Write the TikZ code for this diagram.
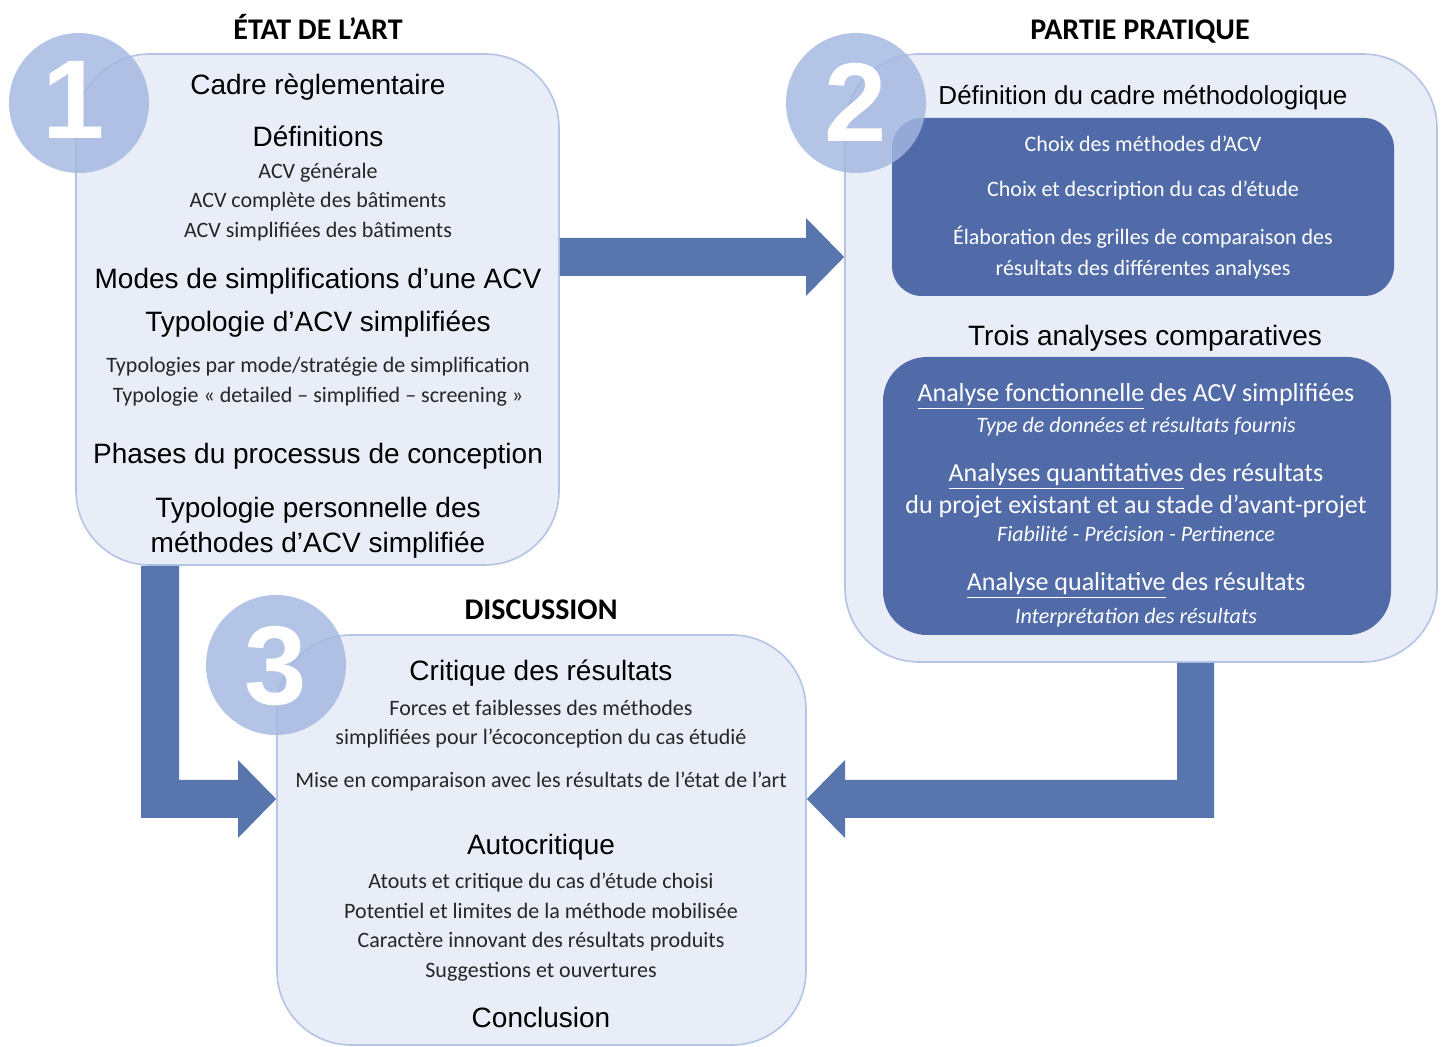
\documentclass[tikz,border=0pt]{standalone}
\usepackage{fontspec}
\setmainfont{Carlito}
\newfontfamily\arialfont{Liberation Sans}
\usetikzlibrary{positioning,calc}

\definecolor{panelfill}{RGB}{233,237,247}
\definecolor{paneldraw}{RGB}{180,196,228}
\definecolor{badgefill}{RGB}{164,183,224}
\definecolor{darkfill}{RGB}{80,107,168}
\definecolor{arrowfill}{RGB}{88,118,173}
\definecolor{textgray}{RGB}{38,38,38}

\begin{document}
\begin{tikzpicture}[x=0.5pt, y=-0.5pt,
  panel/.style={draw=paneldraw, line width=0.8pt, fill=panelfill, rounded corners=37pt, inner sep=0pt},
  darkpanel/.style={fill=darkfill, inner sep=0pt},
  badge/.style={circle, fill=badgefill, fill opacity=0.82, minimum size=70pt, inner sep=0pt},
  badgenum/.style={text=white, inner sep=0pt, font=\arialfont\bfseries\fontsize{56}{56}\selectfont},
  bigarrow/.style={fill=arrowfill},
  heading/.style={font=\bfseries\fontsize{15}{18}\selectfont, text=black},
  bigtext/.style={font=\arialfont\fontsize{14}{17.5}\selectfont, align=center, text=black, yshift=-1.5pt},
  smalltext/.style={font=\fontsize{11}{14.75}\selectfont, align=center, text=textgray, yshift=-1pt},
  whitetext/.style={font=\fontsize{11}{15.5}\selectfont, align=center, text=white, yshift=-0.75pt},
  whitebig/.style={font=\fontsize{13}{16}\selectfont, align=center, text=white, yshift=-1.75pt}]
\useasboundingbox (0,0) rectangle (1442,1047);

% the three panels
\node[panel, minimum width=241.5pt, minimum height=255.5pt] (art) at (317.5,309.5) {};
\node[panel, minimum width=296pt, minimum height=304pt] (pratique) at (1141,358) {};
\node[panel, minimum width=264.5pt, minimum height=205pt] (discussion) at (541.5,840) {};

\node[darkpanel, rounded corners=15pt, minimum width=251pt, minimum height=89pt] (cadrebox) at (1143,207) {};
\node[darkpanel, rounded corners=22pt, minimum width=254pt, minimum height=139pt] (analysebox) at (1137,496) {};

% numbered badges
\node[badge] (one) at (79,103) {};
\node[badge] (two) at (856,103) {};
\node[badge] (three) at (276,665) {};
\node[badgenum] (num1) at (74,100) {1};
\node[badgenum] (num2) at (856,102) {2};
\node[badgenum] (num3) at (276,666) {3};

% block arrows
\fill[bigarrow] (art.east |- 0,238) -- (806,238) -- (806,218) -- (pratique.west |- 0,257)
   -- (806,296) -- (806,276) -- (art.east |- 0,276) -- cycle;
\fill[bigarrow] (141,0 |- art.south) -- (179,0 |- art.south) -- (179,780) -- (238,780)
   -- (238,760) -- (discussion.west |- 0,799) -- (238,838) -- (238,818) -- (141,818) -- cycle;
\fill[bigarrow] (1177,0 |- pratique.south) -- (1214,0 |- pratique.south) -- (1214,818)
   -- (845,818) -- (845,838) -- (discussion.east |- 0,799) -- (845,760) -- (845,780)
   -- (1177,780) -- cycle;

% headings
\node[heading] (hart) at (318,27) {ÉTAT DE L’ART};
\node[heading] (hprat) at (1140,32) {PARTIE PRATIQUE};
\node[heading] (hdisc) at (541,610) {DISCUSSION};

% etat de l'art
\node[bigtext] (cadre) at (318,84) {Cadre règlementaire};
\node[bigtext] (defs) at (318,133) {Définitions};
\node[smalltext] (defsub) at (318,200) {ACV générale\\ACV complète des bâtiments\\ACV simplifiées des bâtiments};
\node[bigtext] (modes) at (318,278) {Modes de simplifications d’une ACV};
\node[bigtext] (typo) at (318,321) {Typologie d’ACV simplifiées};
\node[smalltext] (typosub) at (318,380) {Typologies par mode/stratégie de simplification\\Typologie « detailed – simplified – screening »};
\node[bigtext] (phases) at (318,453) {Phases du processus de conception};
\node[bigtext] (perso) at (318,525) {Typologie personnelle des\\méthodes d’ACV simplifiée};

% partie pratique
\node[bigtext, font=\arialfont\fontsize{13}{16}\selectfont] (methodo) at (1143,95) {Définition du cadre méthodologique};
\node[whitetext] (choixacv) at (1143,142) {Choix des méthodes d’ACV};
\node[whitetext] (choixcas) at (1143,189) {Choix et description du cas d’étude};
\node[whitetext] (grilles) at (1143,251) {Élaboration des grilles de comparaison des\\résultats des différentes analyses};
\node[bigtext] (trois) at (1145,335) {Trois analyses comparatives};
\node[whitebig] (fonc) at (1136,393) {\underline{Analyse fonctionnelle} des ACV simplifiées};
\node[whitetext, font=\itshape\fontsize{11}{15.5}\selectfont, yshift=-1.5pt] (fonci) at (1136,422) {Type de données et résultats fournis};
\node[whitebig] (quant) at (1136,487) {\underline{Analyses quantitatives} des résultats\\du projet existant et au stade d’avant-projet};
\node[whitetext, font=\itshape\fontsize{11}{15.5}\selectfont] (quanti) at (1136,532) {Fiabilité - Précision - Pertinence};
\node[whitebig] (qual) at (1136,582) {\underline{Analyse qualitative} des résultats};
\node[whitetext, font=\itshape\fontsize{11}{15.5}\selectfont, yshift=-1.5pt] (quali) at (1136,613) {Interprétation des résultats};

% discussion
\node[bigtext] (critique) at (541,670) {Critique des résultats};
\node[smalltext] (forces) at (541,722) {Forces et faiblesses des méthodes\\simplifiées pour l’écoconception du cas étudié};
\node[smalltext] (miseencomp) at (541,780) {Mise en comparaison avec les résultats de l’état de l’art};
\node[bigtext] (auto) at (541,844) {Autocritique};
\node[smalltext] (autosub) at (541,925) {Atouts et critique du cas d’étude choisi\\Potentiel et limites de la méthode mobilisée\\Caractère innovant des résultats produits\\Suggestions et ouvertures};
\node[bigtext] (concl) at (541,1014) {Conclusion};
\end{tikzpicture}
\end{document}
